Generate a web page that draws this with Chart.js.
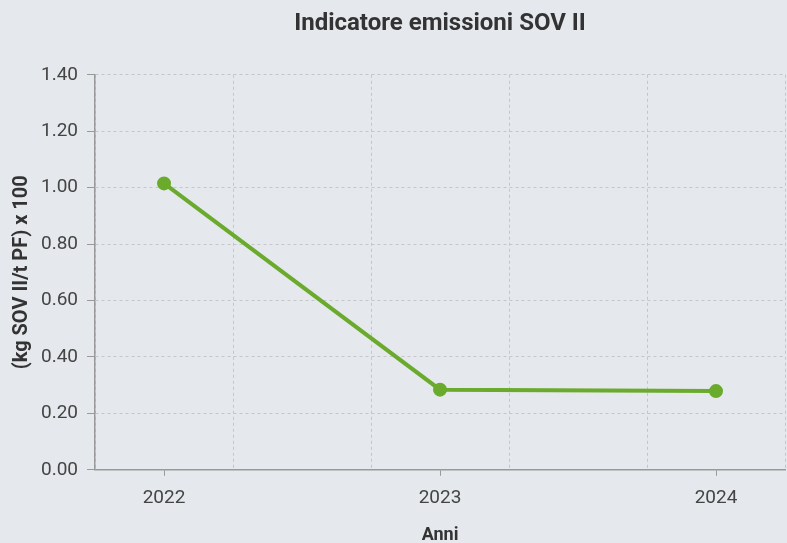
<!DOCTYPE html>
<html>
<head>
<meta charset="utf-8">
<script src="https://cdn.jsdelivr.net/npm/chart.js@4/dist/chart.umd.min.js"></script>
<style>
    html, body { margin: 0; padding: 0; background: #e5e8ec; }
    #wrap { width: 787px; height: 543px; }
</style>
</head>
<body>
<div id="wrap"><canvas id="sov_graph"></canvas></div>
<script>
const years = [2022, 2023, 2024];
const sov_values = [1.015, 0.284, 0.279];
const y_ticks = [0, 0.2, 0.4, 0.6, 0.8, 1.0, 1.2, 1.4];
const x_grid = [2021.75, 2022.25, 2022.75, 2023.25, 2023.75, 2024.25];

const isYear = function (v) {
    return years.indexOf(v) !== -1;
};

Chart.defaults.font.family = 'Roboto, sans-serif';
Chart.defaults.color = '#444';

const sovGraph = document.getElementById('sov_graph');
new Chart(sovGraph, {
    type: 'line',
    data: {
        datasets: [{
            label: 'SOV II',
            data: years.map(function (y, i) {
                return { x: y, y: sov_values[i] };
            }),
            borderColor: '#6aaa2c',
            backgroundColor: '#6aaa2c',
            borderWidth: 4,
            pointRadius: 5,
            pointHoverRadius: 6,
            tension: 0
        }]
    },
    options: {
        responsive: true,
        maintainAspectRatio: false,
        animation: false,
        layout: {
            autoPadding: false,
            padding: { left: 0, right: 2, top: 0, bottom: 0 }
        },
        plugins: {
            legend: { display: false },
            tooltip: { enabled: false },
            title: {
                display: true,
                text: 'Indicatore emissioni SOV II',
                fullSize: false,
                color: '#333',
                font: { size: 24, weight: 'bold' },
                padding: { top: 10, bottom: 36 }
            }
        },
        scales: {
            x: {
                type: 'linear',
                min: 2021.75,
                max: 2024.25,
                afterBuildTicks: function (axis) {
                    axis.ticks = years.concat(x_grid).sort().map(function (v) {
                        return { value: v };
                    });
                },
                afterFit: function (axis) {
                    axis.paddingRight = 0;
                },
                ticks: {
                    autoSkip: false,
                    maxRotation: 0,
                    font: { size: 19, lineHeight: 2.2 },
                    padding: 2,
                    callback: function (value) {
                        return isYear(value) ? String(value) : '';
                    }
                },
                grid: {
                    color: function (ctx) {
                        return ctx.tick && isYear(ctx.tick.value) ? 'rgba(0,0,0,0)' : '#c4c6c9';
                    },
                    tickColor: function (ctx) {
                        return ctx.tick && isYear(ctx.tick.value) ? '#999' : 'rgba(0,0,0,0)';
                    },
                    tickLength: 6
                },
                border: {
                    color: '#999',
                    width: 1.5,
                    dash: [3, 3]
                },
                title: {
                    display: true,
                    text: 'Anni',
                    color: '#333',
                    font: { size: 18, weight: 'bold', lineHeight: 0.8 },
                    padding: { top: 7, bottom: 0 }
                }
            },
            y: {
                min: 0,
                max: 1.4,
                afterBuildTicks: function (axis) {
                    axis.ticks = y_ticks.map(function (v) {
                        return { value: v };
                    });
                },
                ticks: {
                    font: { size: 19 },
                    padding: 9,
                    callback: function (value) {
                        return Number(value).toFixed(2);
                    }
                },
                grid: {
                    color: '#c4c6c9',
                    tickColor: '#999',
                    tickLength: 8
                },
                border: {
                    color: '#999',
                    width: 1.5,
                    dash: [3, 3]
                },
                title: {
                    display: true,
                    text: '(kg SOV II/t PF) x 100',
                    color: '#333',
                    font: { size: 20, weight: 'bold' },
                    padding: { top: 10, bottom: -2 }
                }
            }
        }
    },
    plugins: [{
        id: 'bg',
        beforeDraw: function (chart) {
            const ctx = chart.ctx;
            ctx.save();
            ctx.fillStyle = '#e5e8ec';
            ctx.fillRect(0, 0, chart.width, chart.height);
            ctx.restore();
        }
    }]
});
</script>
</body>
</html>
